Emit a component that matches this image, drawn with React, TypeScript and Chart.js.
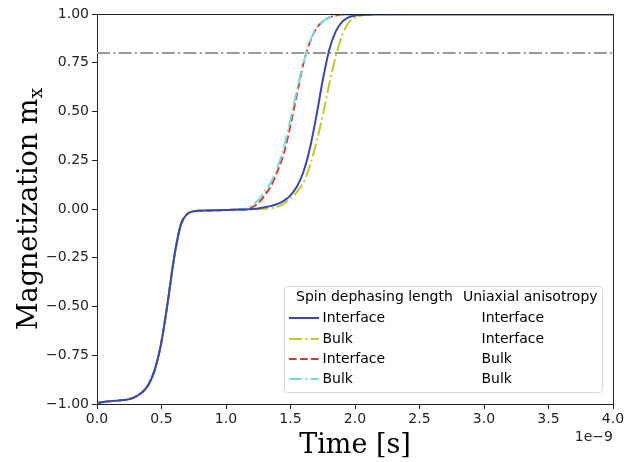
import { useEffect, useRef } from 'react';
import { Chart, registerables } from 'chart.js';

Chart.register(...registerables);

// Time in units of 1e-9 s
const times = [
  0, 0.05, 0.1, 0.15, 0.2, 0.25, 0.3, 0.35, 0.4, 0.45, 0.5, 0.55, 0.6, 0.65, 0.7, 0.75, 0.8, 0.85, 0.9, 0.95,
  1.0, 1.05, 1.1, 1.15, 1.2, 1.25, 1.3, 1.35, 1.4, 1.45, 1.5, 1.55, 1.6, 1.65, 1.7, 1.75, 1.8, 1.85, 1.9, 1.95,
  2.0, 2.05, 2.1, 2.15, 2.2, 2.3, 2.5, 3.0, 3.5, 4.0,
];

// Spin dephasing: Interface, Uniaxial anisotropy: Interface
const interfaceInterface = [
  -0.995, -0.99, -0.986, -0.983, -0.98, -0.975, -0.962, -0.94, -0.9, -0.82, -0.68, -0.47, -0.24, -0.08, -0.025, -0.012, -0.009, -0.008, -0.007, -0.006,
  -0.005, -0.004, -0.003, -0.002, 0.0, 0.003, 0.009, 0.016, 0.026, 0.043, 0.07, 0.115, 0.19, 0.31, 0.475, 0.66, 0.815, 0.91, 0.96, 0.983,
  0.992, 0.995, 0.996, 0.997, 0.997, 0.997, 0.997, 0.997, 0.997, 0.997,
];
// Spin dephasing: Bulk, Uniaxial anisotropy: Interface
const bulkInterface = [
  -0.995, -0.99, -0.986, -0.983, -0.98, -0.975, -0.962, -0.94, -0.9, -0.82, -0.68, -0.47, -0.24, -0.08, -0.025, -0.012, -0.009, -0.008, -0.007, -0.006,
  -0.005, -0.005, -0.004, -0.004, -0.003, -0.001, 0.001, 0.004, 0.012, 0.028, 0.052, 0.088, 0.135, 0.22, 0.34, 0.48, 0.64, 0.78, 0.89, 0.955,
  0.982, 0.992, 0.996, 0.998, 0.999, 1.0, 1.0, 1.0, 1.0, 1.0,
];
// Spin dephasing: Interface, Uniaxial anisotropy: Bulk
const interfaceBulk = [
  -0.995, -0.99, -0.986, -0.983, -0.98, -0.975, -0.962, -0.94, -0.9, -0.82, -0.68, -0.47, -0.24, -0.08, -0.025, -0.012, -0.009, -0.008, -0.007, -0.006,
  -0.005, -0.004, -0.003, -0.001, 0.008, 0.03, 0.07, 0.12, 0.195, 0.29, 0.43, 0.59, 0.745, 0.855, 0.925, 0.962, 0.982, 0.992, 0.996, 0.998,
  0.999, 1.0, 1.0, 1.0, 1.0, 1.0, 1.0, 1.0, 1.0, 1.0,
];
// Spin dephasing: Bulk, Uniaxial anisotropy: Bulk
const bulkBulk = [
  -0.995, -0.99, -0.986, -0.983, -0.98, -0.975, -0.962, -0.94, -0.9, -0.82, -0.68, -0.47, -0.24, -0.08, -0.025, -0.012, -0.009, -0.008, -0.007, -0.006,
  -0.005, -0.004, -0.002, 0.002, 0.018, 0.045, 0.09, 0.14, 0.215, 0.32, 0.46, 0.61, 0.75, 0.86, 0.925, 0.96, 0.982, 0.992, 0.996, 0.998,
  0.999, 1.0, 1.0, 1.0, 1.0, 1.0, 1.0, 1.0, 1.0, 1.0,
];

const thresholdX = [0, 4];
const thresholdY = [0.8, 0.8];

const legendHeader = ['Spin dephasing length', 'Uniaxial anisotropy'];
const dephasingLabels = ['Interface', 'Bulk', 'Interface', 'Bulk'];
const anisotropyLabels = ['Interface', 'Interface', 'Bulk', 'Bulk'];

const xLabel = 'Time [s]';
const yLabel = 'Magnetization m';
const ySub = 'x';
const offsetLabel = '1e\u22129';

const toPts = (xs: number[], ys: number[]) => xs.map((x, i) => ({ x, y: ys[i] }));

const DASHDOT = [13, 3.3, 2, 3.3];
const DASHED = [7.7, 3.3];

export default function App() {
  const ref = useRef<HTMLCanvasElement | null>(null);

  useEffect(() => {
    document.body.style.margin = '0';
    const canvas = ref.current;
    if (!canvas) return;

    const series = [
      { data: interfaceInterface, color: '#3d47a8', dash: [] as number[], order: 0 },
      { data: bulkInterface, color: '#bfca2c', dash: DASHDOT, order: 3 },
      { data: interfaceBulk, color: '#e2342a', dash: DASHED, order: 2 },
      { data: bulkBulk, color: '#72e0d8', dash: DASHDOT, order: 1 },
    ];

    const overlay = {
      id: 'overlay',
      afterDatasetsDraw(chart: any) {
        const { ctx, chartArea } = chart;
        const { left, top, right, bottom } = chartArea;
        ctx.save();
        // frame top/right
        ctx.strokeStyle = '#222';
        ctx.lineWidth = 1;
        ctx.beginPath();
        ctx.moveTo(left, top + 0.5);
        ctx.lineTo(right + 0.5, top + 0.5);
        ctx.lineTo(right + 0.5, bottom);
        ctx.stroke();

        // legend
        const bx = 284.5, by = 286.5, bw = 318, bh = 106;
        ctx.fillStyle = 'rgba(255,255,255,0.85)';
        ctx.strokeStyle = '#d6d6d6';
        ctx.lineWidth = 1;
        ctx.beginPath();
        if (ctx.roundRect) ctx.roundRect(bx, by, bw, bh, 3);
        else ctx.rect(bx, by, bw, bh);
        ctx.fill();
        ctx.stroke();

        ctx.font = '14px "DejaVu Sans"';
        ctx.fillStyle = '#000';
        ctx.textBaseline = 'middle';
        ctx.textAlign = 'left';
        ctx.fillText(legendHeader[0], 296, 297.5);
        ctx.fillText(legendHeader[1], 463, 297.5);
        const rows = [318, 339, 359, 379];
        chart.data.datasets.slice(0, 4).forEach((ds: any, i: number) => {
          ctx.save();
          ctx.strokeStyle = ds.borderColor;
          ctx.lineWidth = 2;
          ctx.setLineDash(ds.borderDash || []);
          ctx.beginPath();
          ctx.moveTo(289, rows[i]);
          ctx.lineTo(319, rows[i]);
          ctx.stroke();
          ctx.restore();
          ctx.fillStyle = '#000';
          ctx.fillText(dephasingLabels[i], 322.5, rows[i]);
          ctx.fillText(anisotropyLabels[i], 481.5, rows[i]);
        });

        // axis titles
        ctx.fillStyle = '#000';
        ctx.font = '27px "DejaVu Serif"';
        ctx.textAlign = 'center';
        ctx.textBaseline = 'alphabetic';
        ctx.fillText(xLabel, (left + right) / 2, 453);

        ctx.save();
        ctx.translate(37, (top + bottom) / 2);
        ctx.rotate(-Math.PI / 2);
        const w1 = ctx.measureText(yLabel).width;
        ctx.font = '19px "DejaVu Serif"';
        const w2 = ctx.measureText(ySub).width;
        const start = -(w1 + w2) / 2;
        ctx.font = '27px "DejaVu Serif"';
        ctx.textAlign = 'left';
        ctx.fillText(yLabel, start, 0);
        ctx.font = '19px "DejaVu Serif"';
        ctx.fillText(ySub, start + w1, 5);
        ctx.restore();

        // offset label
        ctx.font = '14px "DejaVu Sans"';
        ctx.textAlign = 'right';
        ctx.textBaseline = 'middle';
        ctx.fillStyle = '#222';
        ctx.fillText(offsetLabel, right, 437);
        ctx.restore();
      },
    };

    const chart = new Chart(canvas, {
      type: 'line',
      data: {
        datasets: [
          ...series.map((s, i) => ({
            label: dephasingLabels[i] + ' / ' + anisotropyLabels[i],
            data: toPts(times, s.data),
            borderColor: s.color,
            backgroundColor: s.color,
            borderWidth: 2,
            borderDash: s.dash,
            pointRadius: 0,
            fill: false,
            cubicInterpolationMode: 'monotone' as const,
            order: s.order,
          })),
          {
            label: 'threshold',
            data: toPts(thresholdX, thresholdY),
            borderColor: '#999999',
            borderWidth: 2,
            borderDash: DASHDOT,
            pointRadius: 0,
            fill: false,
            order: 4,
          },
        ],
      },
      options: {
        animation: false,
        responsive: false,
        devicePixelRatio: 1,
        layout: { padding: { top: 14, right: 11, left: 0, bottom: 0 } },
        plugins: { legend: { display: false }, tooltip: { enabled: false } },
        scales: {
          x: {
            type: 'linear',
            min: 0,
            max: 4,
            ticks: {
              stepSize: 0.5,
              color: '#222',
              font: { family: 'DejaVu Sans', size: 14 },
              padding: 2,
              maxRotation: 0,
              callback: (v: any) => Number(v).toFixed(1),
            },
            grid: { drawOnChartArea: false, drawTicks: true, tickLength: 5, color: '#222' },
            border: { color: '#222', width: 1 },
            afterFit: (s: any) => { s.height = 58; s.paddingLeft = 0; s.paddingRight = 0; },
          },
          y: {
            type: 'linear',
            min: -1,
            max: 1,
            ticks: {
              stepSize: 0.25,
              color: '#222',
              font: { family: 'DejaVu Sans', size: 14 },
              padding: 3,
              callback: (v: any) => Number(v).toFixed(2).replace('-', '\u2212'),
            },
            grid: { drawOnChartArea: false, drawTicks: true, tickLength: 5, color: '#222' },
            border: { color: '#222', width: 1 },
            afterFit: (s: any) => { s.width = 97; s.paddingTop = 0; s.paddingBottom = 0; },
          },
        },
      },
      plugins: [overlay],
    });

    return () => chart.destroy();
  }, []);

  return <canvas ref={ref} width={624} height={462} style={{ display: 'block' }} />;
}
